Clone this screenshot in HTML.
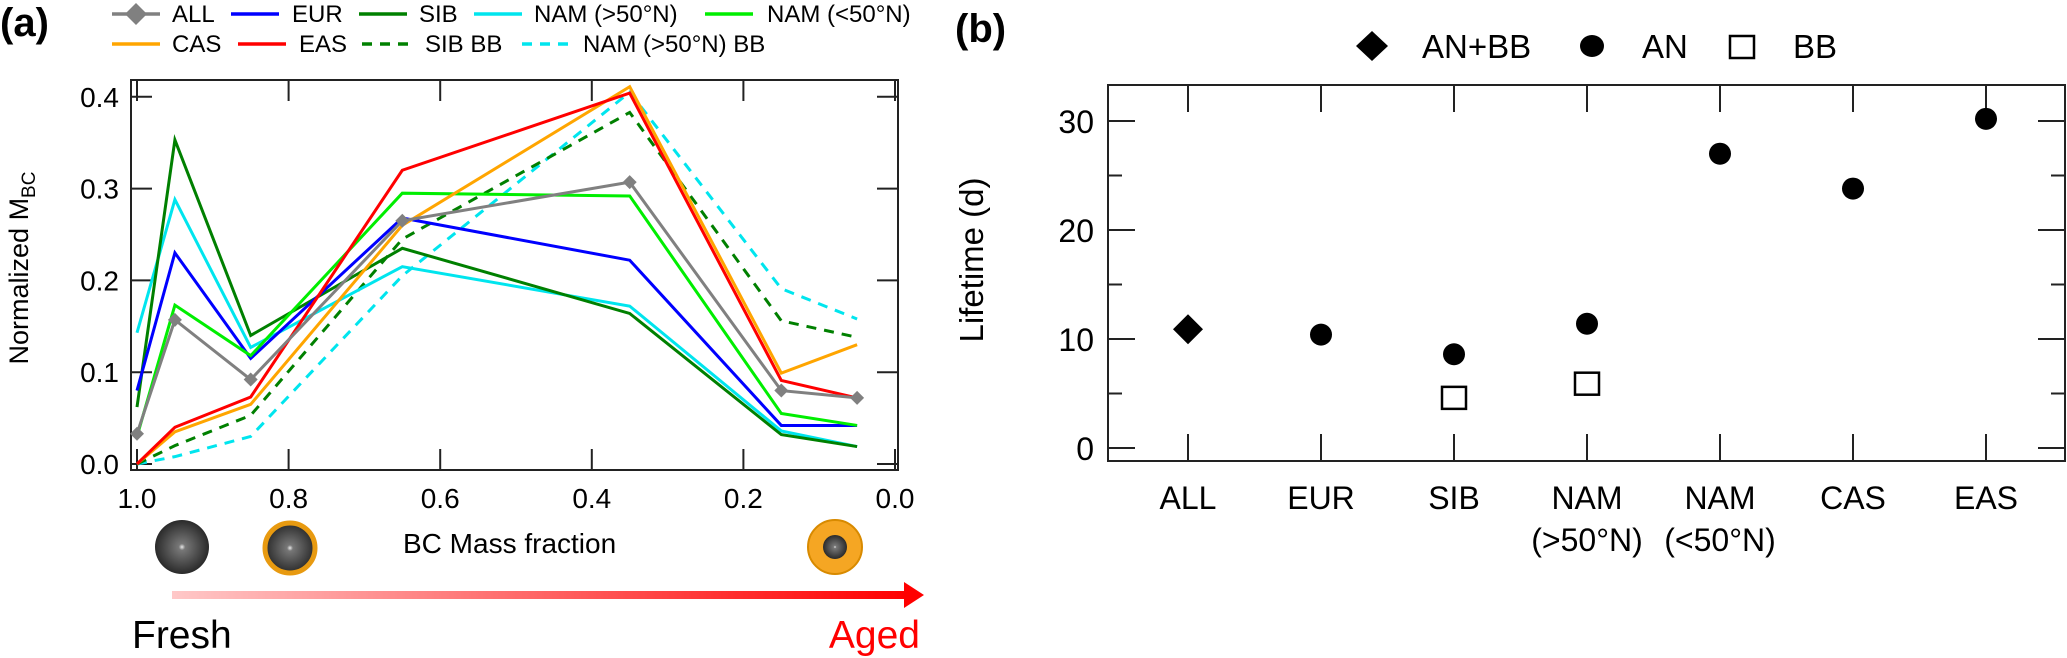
<!DOCTYPE html>
<html><head><meta charset="utf-8">
<style>
html,body{margin:0;padding:0;background:#fff;}
svg{display:block;font-family:"Liberation Sans",Arial,sans-serif;}
</style></head>
<body>
<svg id="fig" width="2067" height="658" viewBox="0 0 2067 658" xmlns="http://www.w3.org/2000/svg">
<defs>
<linearGradient id="arrowGrad" x1="0" x2="1" y1="0" y2="0">
<stop offset="0" stop-color="#ffc8c8"/><stop offset="1" stop-color="#ff0000"/>
</linearGradient>
<radialGradient id="ball" cx="0.5" cy="0.5" r="0.5">
<stop offset="0" stop-color="#e8e8e8"/><stop offset="0.12" stop-color="#777"/><stop offset="1" stop-color="#2a2a2a"/>
</radialGradient>
</defs>
<g id="panelA"></g>
<g id="panelB"></g>
</svg>
<script>
// ---------- Panel (a) data ----------
const massFraction = [1.0, 0.95, 0.85, 0.65, 0.35, 0.15, 0.05];
const seriesNames = ["ALL","EUR","SIB","NAM (>50°N)","NAM (<50°N)","CAS","EAS","SIB BB","NAM (>50°N) BB"];
const valsALL   = [0.033, 0.157, 0.092, 0.265, 0.307, 0.080, 0.072];
const valsEUR   = [0.080, 0.230, 0.115, 0.268, 0.222, 0.042, 0.042];
const valsSIB   = [0.062, 0.353, 0.140, 0.235, 0.164, 0.032, 0.019];
const valsNAMN  = [0.143, 0.288, 0.127, 0.215, 0.172, 0.036, 0.019];
const valsNAMS  = [0.030, 0.173, 0.118, 0.295, 0.292, 0.055, 0.042];
const valsCAS   = [0.000, 0.035, 0.065, 0.260, 0.411, 0.099, 0.130];
const valsEAS   = [0.000, 0.040, 0.073, 0.320, 0.404, 0.091, 0.072];
const valsSIBBB = [0.000, 0.020, 0.053, 0.245, 0.383, 0.156, 0.138];
const valsNAMBB = [0.000, 0.008, 0.030, 0.205, 0.405, 0.191, 0.158];
const xTicksA = [1.0, 0.8, 0.6, 0.4, 0.2, 0.0];
const yTicksA = [0.0, 0.1, 0.2, 0.3, 0.4];

// ---------- Panel (b) data ----------
const regions = ["ALL","EUR","SIB","NAM|(>50°N)","NAM|(<50°N)","CAS","EAS"];
const lifeANBB = [10.9, null, null, null, null, null, null];
const lifeAN   = [null, 10.4, 8.6, 11.4, 27.0, 23.8, 30.2];
const lifeBB   = [null, null, 4.6, 5.9, null, null, null];
const yTicksB = [0, 10, 20, 30];

const NS = "http://www.w3.org/2000/svg";
function mk(tag, attrs, parent, text){
  const e = document.createElementNS(NS, tag);
  for (const k in attrs) e.setAttribute(k, attrs[k]);
  if (text !== undefined) e.textContent = text;
  parent.appendChild(e);
  return e;
}

// ===== Panel A =====
const A = document.getElementById('panelA');
const aL = 131, aR = 898, aT = 80, aB = 470;
const xA = v => 137 + (1.0 - v) * 758;
const yA = v => 464 - v * 918;

let t;
t = mk('text', {x: 0, y: 36, 'font-size': 40, 'font-weight': 'bold'}, A, '(a)');



const colorsA = ["#808080","#0000ff","#008000","#00e5ee","#00ee00","#ffa500","#ff0000","#008000","#00e5ee"];
const dashesA = ["","","","","","","","10,8","10,8"];
const dataA = [valsALL, valsEUR, valsSIB, valsNAMN, valsNAMS, valsCAS, valsEAS, valsSIBBB, valsNAMBB];
const slugA = ["all","eur","sib","nam-north","nam-south","cas","eas","sib-bb","nam-north-bb"];

const legPos = [[112,172,22],[231,292,22],[359,419,22],[474,534,22],[705,767,22],[112,172,52],[238,299,52],[362,425,52],[522,583,52]];
[0,1,2,3,4,5,6,7,8].forEach(i => {
  const p = legPos[i];
  const g = mk('g', {}, A);
  
  
  mk('line', {x1: p[0], x2: p[0] + 48, y1: p[2] - 8, y2: p[2] - 8, stroke: colorsA[i], 'stroke-width': 3.5, 'stroke-dasharray': dashesA[i]}, g);
  if (i === 0) mk('path', {d: `M${p[0]+24} ${p[2]-19} l11 11 l-11 11 l-11 -11z`, fill: '#808080'}, g);
  mk('text', {x: p[1], y: p[2], 'font-size': 24}, g, seriesNames[i]);
});

const frameA = mk('rect', {x: aL, y: aT, width: aR - aL, height: aB - aT, fill: 'none', stroke: '#222', 'stroke-width': 2}, A);



xTicksA.forEach(v => {
  const x = xA(v);
  mk('line', {x1: x, x2: x, y1: aB, y2: aB - 21, stroke: '#222', 'stroke-width': 2}, A);
  mk('line', {x1: x, x2: x, y1: aT, y2: aT + 21, stroke: '#222', 'stroke-width': 2}, A);
  const lb = mk('text', {x: x, y: 508, 'font-size': 28, 'text-anchor': 'middle'}, A, v.toFixed(1));
  
  
});
yTicksA.forEach(v => {
  const y = yA(v);
  mk('line', {x1: aL, x2: aL + 21, y1: y, y2: y, stroke: '#222', 'stroke-width': 2}, A);
  mk('line', {x1: aR, x2: aR - 21, y1: y, y2: y, stroke: '#222', 'stroke-width': 2}, A);
  const lb = mk('text', {x: 119, y: y + 10, 'font-size': 28, 'text-anchor': 'end'}, A, v.toFixed(1));
  
  
});

const yt = mk('text', {x: 0, y: 0, 'font-size': 27, 'text-anchor': 'middle', transform: 'translate(28,268) rotate(-90)'}, A);


mk('tspan', {}, yt, 'Normalized M');
mk('tspan', {'font-size': 19, dy: 7}, yt, 'BC');

[8,7,3,2,1,4,5,6,0].forEach(i => {
  const pts = dataA[i].map((v, k) => xA(massFraction[k]) + ',' + yA(v)).join(' ');
  const pl = mk('polyline', {points: pts, fill: 'none', stroke: colorsA[i], 'stroke-width': 3, 'stroke-dasharray': dashesA[i], 'stroke-linejoin': 'miter'}, A);
  
  
  if (i === 0) {
    dataA[0].forEach((v, k) => {
      const m = mk('path', {d: `M${xA(massFraction[k])} ${yA(v)-7} l7 7 l-7 7 l-7 -7z`, fill: '#808080'}, A);
      
      
    });
  }
});

t = mk('text', {x: 403, y: 553, 'font-size': 28}, A, 'BC Mass fraction');



let b;
b = mk('circle', {cx: 182, cy: 547, r: 27, fill: 'url(#ball)'}, A);


b = mk('circle', {cx: 290, cy: 548, r: 25, fill: 'url(#ball)', stroke: '#e89a10', 'stroke-width': 5}, A);


const agedG = mk('g', {}, A);


mk('circle', {cx: 835, cy: 547, r: 27, fill: '#f5a623', stroke: '#d88a00', 'stroke-width': 2}, agedG);
mk('circle', {cx: 835, cy: 547, r: 12, fill: 'url(#ball)'}, agedG);

const arr = mk('g', {}, A);


mk('rect', {x: 172, y: 591, width: 735, height: 8, fill: 'url(#arrowGrad)'}, arr);
mk('path', {d: 'M904 582 L924 595 L904 608 Z', fill: '#ff0000'}, arr);
t = mk('text', {x: 132, y: 648, 'font-size': 39}, A, 'Fresh');


t = mk('text', {x: 920, y: 648, 'font-size': 39, fill: '#ff0000', 'text-anchor': 'end'}, A, 'Aged');



// ===== Panel B =====
const B = document.getElementById('panelB');
const bL = 1108, bR = 2065, bT = 85, bB = 461;
const xB = i => 1188 + i * 133;
const yB = v => 448 - v * 10.9;

t = mk('text', {x: 955, y: 42, 'font-size': 40, 'font-weight': 'bold'}, B, '(b)');



let lg = mk('g', {}, B);


mk('path', {d: 'M1372 31 l16 15 l-16 15 l-16 -15z', fill: '#000'}, lg);
mk('text', {x: 1422, y: 58, 'font-size': 33}, lg, 'AN+BB');
lg = mk('g', {}, B);


mk('ellipse', {cx: 1592, cy: 46, rx: 12, ry: 11, fill: '#000'}, lg);
mk('text', {x: 1642, y: 58, 'font-size': 33}, lg, 'AN');
lg = mk('g', {}, B);


mk('rect', {x: 1730, y: 36, width: 24, height: 22, fill: 'none', stroke: '#000', 'stroke-width': 2.5}, lg);
mk('text', {x: 1793, y: 58, 'font-size': 33}, lg, 'BB');

const frameB = mk('rect', {x: bL, y: bT, width: bR - bL, height: bB - bT, fill: 'none', stroke: '#222', 'stroke-width': 2}, B);



for (let v = 0; v <= 30; v += 5) {
  const y = yB(v);
  const len = (v % 10 === 0) ? 27 : 14;
  mk('line', {x1: bL, x2: bL + len, y1: y, y2: y, stroke: '#222', 'stroke-width': 2}, B);
  mk('line', {x1: bR, x2: bR - len, y1: y, y2: y, stroke: '#222', 'stroke-width': 2}, B);
}
yTicksB.forEach(v => {
  const lb = mk('text', {x: 1094, y: yB(v) + 12, 'font-size': 32, 'text-anchor': 'end'}, B, String(v));
  
  
});
regions.forEach((r, i) => {
  const x = xB(i);
  mk('line', {x1: x, x2: x, y1: bB, y2: bB - 27, stroke: '#222', 'stroke-width': 2}, B);
  mk('line', {x1: x, x2: x, y1: bT, y2: bT + 27, stroke: '#222', 'stroke-width': 2}, B);
  const parts = r.split('|');
  const lb = mk('text', {x: x, y: 509, 'font-size': 32, 'text-anchor': 'middle'}, B);
  
  
  mk('tspan', {x: x}, lb, parts[0]);
  if (parts[1]) mk('tspan', {x: x, dy: 42}, lb, parts[1]);
});

const ytb = mk('text', {x: 0, y: 0, 'font-size': 33, 'text-anchor': 'middle', transform: 'translate(983,260) rotate(-90)'}, B, 'Lifetime (d)');



lifeANBB.forEach((v, i) => {
  if (v === null) return;
  const m = mk('path', {d: `M${xB(i)} ${yB(v)-15} l15 15 l-15 15 l-15 -15z`, fill: '#000'}, B);
  
  
});
lifeAN.forEach((v, i) => {
  if (v === null) return;
  const m = mk('ellipse', {cx: xB(i), cy: yB(v), rx: 11, ry: 11, fill: '#000'}, B);
  
  
});
lifeBB.forEach((v, i) => {
  if (v === null) return;
  const m = mk('rect', {x: xB(i) - 12, y: yB(v) - 11, width: 24, height: 22, fill: 'none', stroke: '#000', 'stroke-width': 2.5}, B);
  
  
});
</script>
</body></html>
